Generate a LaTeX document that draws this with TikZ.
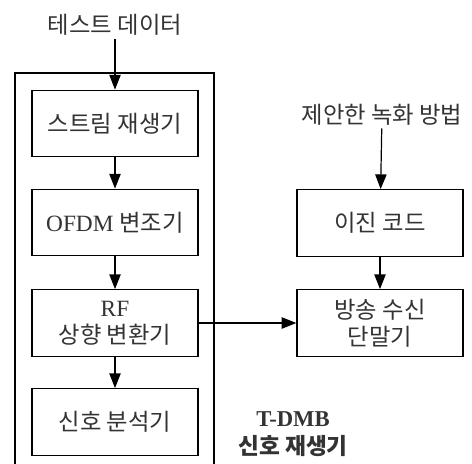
\documentclass[tikz,border=0pt]{standalone}
\usepackage{fontspec}
\setmainfont{Liberation Serif}
\newfontfamily\kr{Noto Sans CJK KR}
\usetikzlibrary{arrows.meta}
\tikzset{
  blockbox/.style={draw, line width=0.9pt, text=black!80, inner sep=0pt, align=center,
    minimum width=124.5pt, minimum height=50pt, font=\fontsize{17.5}{20}\selectfont},
  caption/.style={text=black!80, inner sep=2pt, align=center, font=\fontsize{17.5}{21}\selectfont},
  flow/.style={-{Triangle[length=11pt,width=8.5pt]}, line width=0.9pt}
}
\begin{document}
\begin{tikzpicture}[x=0.75pt,y=0.75pt,yscale=-1,xscale=1]
\useasboundingbox (0,0) rectangle (472,464);
\clip (0,0) rectangle (472,464);

%Outer frame
\draw [line width=0.9pt] (15,73) rectangle (214,480);

%Left column
\node [caption] (testdata) at (115,25) {\kr 테스트 데이터};
\node [blockbox] (stream) at (115,123.5) {\kr 스트림 재생기};
\node [blockbox] (ofdm) at (115,222.5) {OFDM {\kr 변조기}};
\node [blockbox] (rfup) at (115,323) {RF\\{\kr 상향 변환기}};
\node [blockbox] (analyzer) at (115,422) {\kr 신호 분석기};

%Right column
\node [caption] (method) at (382,115) {\kr 제안한 녹화 방법};
\node [blockbox] (bincode) at (380,223) {\kr 이진 코드};
\node [blockbox] (receiver) at (380,323) {{\kr 방송 수신}\\{\kr 단말기}};

%Frame label
\node [caption, font=\fontsize{17}{21}\selectfont\bfseries] (tdmb) at (293,434) {T-DMB\\{\kr\bfseries 신호 재생기}};

%Straight Lines
\draw [flow] (testdata) -- (stream);
\draw [flow] (stream) -- (ofdm);
\draw [flow] (ofdm) -- (rfup);
\draw [flow] (rfup) -- (analyzer);
\draw [flow] (method) -- (bincode);
\draw [flow] (bincode) -- (receiver);
\draw [flow] (rfup) -- (receiver);

\end{tikzpicture}
\end{document}
